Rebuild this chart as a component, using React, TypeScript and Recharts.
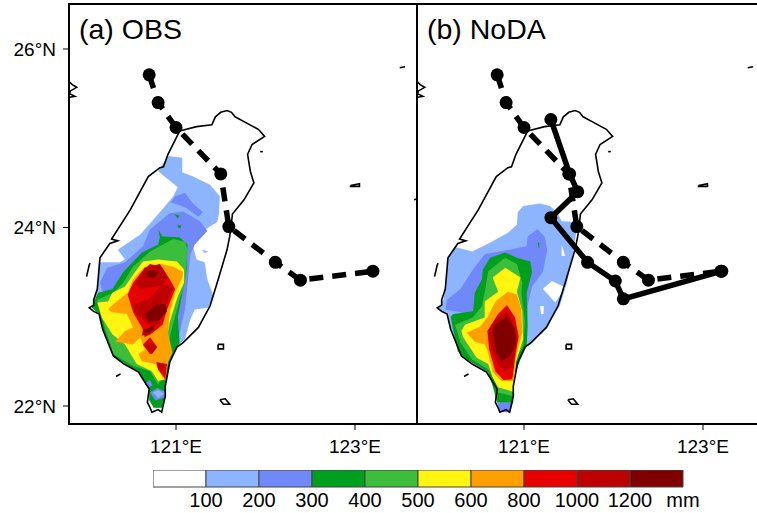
import { BarChart, Bar, ScatterChart, Scatter, XAxis, YAxis, ReferenceArea } from "recharts";

type Poly = number[][];

const LEVEL_LABELS = ["100", "200", "300", "400", "500", "600", "800", "1000", "1200", "mm"];
const LEVEL_COLORS = ["#ffffff", "#8cb4ff", "#7088f8", "#00a01e", "#3cbe3c", "#fff510", "#ffa000", "#e60000", "#bd0000", "#800000"];
const LON_TICKS = [121, 123];
const LAT_TICKS = [22, 24, 26];
const LON_DOMAIN = [119.804, 123.693];
const LAT_DOMAIN = [21.798, 26.504];

const COAST: Poly = [
  [121.04, 25.08], [121.23, 25.13], [121.40, 25.15], [121.44, 25.24], [121.50, 25.29], [121.57, 25.31], [121.62, 25.29],
  [121.66, 25.24], [121.77, 25.18], [121.92, 25.10], [121.99, 25.02], [121.85, 24.93], [121.80, 24.82], [121.83, 24.63],
  [121.87, 24.50], [121.76, 24.31], [121.63, 24.15], [121.62, 24.05], [121.60, 23.90], [121.57, 23.75], [121.46, 23.38],
  [121.38, 23.12], [121.25, 22.88], [121.08, 22.71], [121.01, 22.66], [120.93, 22.49], [120.88, 22.22], [120.88, 22.11],
  [120.86, 22.02], [120.84, 21.93], [120.80, 21.96], [120.73, 21.93], [120.71, 21.98], [120.68, 22.04], [120.70, 22.19],
  [120.58, 22.38], [120.42, 22.47], [120.30, 22.56], [120.18, 22.86], [120.14, 23.03], [120.08, 23.06], [120.03, 23.10],
  [120.08, 23.13], [120.08, 23.19], [120.12, 23.31], [120.15, 23.66], [120.26, 23.82], [120.35, 23.85], [120.28, 23.87],
  [120.49, 24.20], [120.69, 24.57], [120.82, 24.67], [120.86, 24.68], [120.91, 24.82], [121.04, 25.08],
];

const ISLETS: Poly[] = [
  [[123.50, 25.79], [123.56, 25.80]],
  [[122.95, 24.47], [123.05, 24.49], [123.05, 24.46], [122.95, 24.46], [122.95, 24.47]],
  [[123.66, 24.31], [123.69, 24.32]],
  [[121.47, 22.69], [121.53, 22.69], [121.53, 22.64], [121.47, 22.64], [121.47, 22.69]],
  [[120.33, 22.33], [120.38, 22.36]],
  [[121.49, 22.07], [121.55, 22.08], [121.60, 22.02], [121.53, 22.02], [121.49, 22.07]],
  [[120.00, 23.45], [120.03, 23.58], [120.04, 23.60]],
  [[119.81, 25.63], [119.84, 25.60], [119.89, 25.57], [119.82, 25.53], [119.81, 25.50], [119.87, 25.47], [119.81, 25.46]],
  [[121.94, 24.85], [121.97, 24.85]],
];

const TRACK_OBS: Poly = [
  [120.70, 25.71], [120.80, 25.40], [121.00, 25.12], [121.50, 24.60],
  [121.59, 24.01], [122.11, 23.61], [122.39, 23.41], [123.20, 23.51],
];
const TRACK_NODA: Poly = [
  [121.30, 25.21], [121.51, 24.60], [121.60, 24.40], [121.30, 24.11],
  [121.71, 23.61], [122.02, 23.40], [122.11, 23.20], [123.21, 23.51],
];

const OBS_100: Poly[] = [
  [[120.91, 24.80], [121.07, 24.78], [121.07, 24.62], [121.19, 24.57], [121.38, 24.48], [121.49, 24.35], [121.48, 24.15],
   [121.46, 24.06], [121.27, 23.94], [121.19, 23.81], [121.20, 23.75], [121.23, 23.64], [121.32, 23.61], [121.35, 23.42],
   [121.42, 23.23], [121.36, 23.10], [121.21, 23.08], [121.16, 22.97], [121.10, 22.75], [121.01, 22.66], [120.93, 22.49],
   [120.88, 22.22], [120.88, 22.11], [120.84, 21.98], [120.75, 21.98], [120.70, 22.07], [120.70, 22.19], [120.58, 22.38],
   [120.30, 22.56], [120.18, 22.86], [120.14, 23.03], [120.06, 23.10], [120.08, 23.19], [120.12, 23.31], [120.14, 23.61],
   [120.37, 23.61], [120.43, 23.64], [120.35, 23.75], [120.60, 23.92], [120.82, 24.17], [120.97, 24.35], [121.02, 24.45], [120.80, 24.63]],
  [[121.29, 23.75], [121.36, 23.73], [121.32, 23.71]],
];
const OBS_200: Poly[] = [
  [[120.93, 24.16], [121.08, 24.18], [121.27, 24.07], [121.35, 23.96], [121.21, 23.81], [121.16, 23.70], [121.13, 23.38],
   [121.10, 23.08], [121.04, 22.82], [121.02, 22.69], [120.96, 22.66], [120.82, 22.97], [120.37, 23.31], [120.18, 23.28],
   [120.15, 23.38], [120.23, 23.55], [120.43, 23.61], [120.63, 23.79], [120.71, 23.98]],
  [[120.99, 24.35], [121.10, 24.39], [121.18, 24.28], [121.30, 24.17], [121.25, 24.12], [121.11, 24.22], [121.01, 24.26], [120.94, 24.28]],
];
const OBS_300: Poly[] = [
  [[120.80, 23.98], [120.85, 23.90], [121.04, 23.89], [121.13, 23.81], [121.12, 23.64], [121.12, 23.53], [121.08, 23.31],
   [121.02, 23.00], [121.04, 22.71], [121.01, 22.66], [120.93, 22.49], [120.88, 22.22], [120.88, 22.11], [120.84, 21.98],
   [120.75, 21.98], [120.70, 22.07], [120.70, 22.19], [120.58, 22.38], [120.30, 22.56], [120.18, 22.86], [120.14, 23.03],
   [120.06, 23.10], [120.08, 23.16], [120.13, 23.27], [120.29, 23.31], [120.41, 23.50], [120.62, 23.72], [120.80, 23.81], [120.82, 23.89]],
  [[120.98, 24.15], [121.04, 24.13], [121.02, 24.10]],
  [[121.02, 24.03], [121.06, 24.02], [121.05, 23.99], [121.02, 24.00]],
];
const OBS_400: Poly[] = [
  [[120.71, 23.73], [120.82, 23.79], [120.97, 23.87], [121.10, 23.84], [121.13, 23.75], [121.10, 23.38], [121.04, 23.19],
   [120.96, 22.89], [120.91, 22.69], [120.82, 22.52], [120.84, 22.30], [120.80, 22.24], [120.71, 22.39], [120.52, 22.45],
   [120.30, 22.58], [120.21, 22.86], [120.15, 23.08], [120.12, 23.19], [120.30, 23.27], [120.41, 23.38], [120.52, 23.56]],
];
const OBS_500: Poly[] = [
  [[120.63, 23.62], [120.80, 23.64], [121.01, 23.62], [121.09, 23.53], [121.09, 23.38], [121.02, 23.23], [120.93, 22.94],
   [120.88, 22.67], [120.88, 22.30], [120.80, 22.28], [120.73, 22.39], [120.56, 22.47], [120.43, 22.69], [120.29, 22.80],
   [120.17, 22.99], [120.12, 23.16], [120.24, 23.17], [120.29, 23.27], [120.43, 23.34], [120.52, 23.47]],
];
const OBS_600: Poly[] = [
  [[120.65, 23.56], [120.84, 23.59], [120.97, 23.56], [121.08, 23.50], [121.07, 23.44], [120.99, 23.27], [120.93, 23.05],
   [120.91, 22.82], [120.96, 22.60], [120.91, 22.49], [120.88, 22.28], [120.80, 22.41], [120.77, 22.47], [120.62, 22.50],
   [120.58, 22.58], [120.65, 22.63], [120.60, 22.77], [120.52, 22.69], [120.32, 22.72], [120.43, 22.84], [120.52, 22.88],
   [120.45, 23.03], [120.29, 23.05], [120.24, 23.08], [120.30, 23.14], [120.46, 23.27], [120.52, 23.42]],
];
const OBS_800: Poly[] = [
  [[120.71, 23.59], [120.84, 23.56], [120.93, 23.42], [120.99, 23.31], [120.90, 23.08], [120.85, 22.91], [120.74, 22.82],
   [120.65, 22.77], [120.63, 22.86], [120.52, 23.05], [120.46, 23.25], [120.52, 23.38], [120.62, 23.51]],
  [[120.71, 22.77], [120.63, 22.69], [120.71, 22.58], [120.79, 22.66]],
  [[120.78, 22.49], [120.90, 22.47], [120.88, 22.30], [120.80, 22.41]],
];
const OBS_1000: Poly[] = [
  [[120.55, 23.37], [120.65, 23.55], [120.82, 23.59], [120.91, 23.44], [120.84, 23.35], [120.60, 23.31]],
  [[120.74, 23.25], [120.85, 23.36], [120.97, 23.33], [120.88, 23.12], [120.82, 22.95], [120.74, 22.88], [120.66, 22.95],
   [120.53, 23.06], [120.53, 23.14], [120.69, 23.19]],
  [[120.65, 22.67], [120.71, 22.71], [120.79, 22.66], [120.73, 22.58]],
  [[120.78, 22.49], [120.88, 22.47], [120.85, 22.39], [120.80, 22.43]],
  [[120.63, 22.86], [120.77, 22.90], [120.71, 22.80], [120.62, 22.79]],
];
const OBS_1200: Poly[] = [
  [[120.66, 23.50], [120.73, 23.52], [120.81, 23.50], [120.77, 23.44], [120.69, 23.44]],
  [[120.65, 23.03], [120.79, 23.14], [120.88, 23.14], [120.90, 23.06], [120.80, 22.95], [120.69, 22.95]],
  [[120.63, 22.84], [120.73, 22.89], [120.77, 22.86], [120.68, 22.82]],
];
const OBS_HOLE_200: Poly[] = [
  [[120.65, 22.25], [120.71, 22.29], [120.74, 22.23], [120.69, 22.21]],
  [[120.71, 22.15], [120.79, 22.20], [120.88, 22.16], [120.88, 22.10], [120.77, 22.06]],
];
const OBS_HOLE_100: Poly[] = [[[120.74, 22.15], [120.80, 22.18], [120.87, 22.14], [120.80, 22.09]]];

const NODA_100: Poly[] = [
  [[120.99, 24.24], [121.18, 24.27], [121.29, 24.24], [121.37, 24.17], [121.42, 24.07], [121.60, 24.06], [121.56, 23.79],
   [121.55, 23.72], [121.48, 23.38], [121.40, 23.12], [121.23, 22.86], [121.07, 22.69], [121.01, 22.66], [120.93, 22.49],
   [120.88, 22.22], [120.88, 22.11], [120.84, 21.98], [120.75, 21.98], [120.70, 22.07], [120.70, 22.19], [120.58, 22.38],
   [120.30, 22.56], [120.18, 22.86], [120.14, 23.03], [120.04, 23.08], [120.10, 23.19], [120.14, 23.53], [120.15, 23.66],
   [120.23, 23.78], [120.42, 23.73], [120.62, 23.83], [120.82, 23.94], [120.92, 24.03], [120.93, 24.17]],
];
const NODA_200: Poly[] = [
  [[121.15, 23.98], [121.23, 23.90], [121.26, 23.75], [121.21, 23.50], [121.09, 23.34], [121.04, 23.12], [121.03, 22.71],
   [120.96, 22.69], [120.73, 22.97], [120.12, 23.08], [120.14, 23.19], [120.29, 23.31], [120.43, 23.53], [120.56, 23.70],
   [120.73, 23.73], [121.03, 23.79], [121.04, 23.90]],
  [[120.70, 22.04], [120.88, 22.04], [120.84, 21.93], [120.73, 21.93]],
];
const NODA_300: Poly[] = [
  [[120.79, 23.72], [120.92, 23.66], [121.07, 23.62], [121.09, 23.50], [121.03, 23.27], [121.04, 22.89], [121.03, 22.67],
   [120.96, 22.52], [120.88, 22.30], [120.88, 22.04], [120.70, 22.04], [120.65, 22.22], [120.60, 22.38], [120.36, 22.52],
   [120.26, 22.61], [120.20, 22.89], [120.18, 23.00], [120.21, 23.03], [120.43, 23.06], [120.45, 23.27], [120.53, 23.42],
   [120.54, 23.53], [120.62, 23.66]],
  [[121.15, 23.83], [121.17, 23.83], [121.17, 23.76]],
];
const NODA_400: Poly[] = [
  [[120.79, 23.66], [120.92, 23.59], [120.98, 23.38], [120.97, 23.27], [121.01, 22.94], [120.99, 22.67], [120.92, 22.56],
   [120.88, 22.26], [120.88, 22.11], [120.71, 22.15], [120.68, 22.28], [120.60, 22.41], [120.42, 22.52], [120.29, 22.71],
   [120.23, 22.91], [120.43, 22.99], [120.53, 23.12], [120.56, 23.27], [120.60, 23.51]],
];
const NODA_500: Poly[] = [
  [[120.79, 23.55], [120.96, 23.44], [120.92, 23.28], [120.98, 23.06], [120.99, 22.75], [120.91, 22.49], [120.88, 22.16],
   [120.71, 22.21], [120.65, 22.32], [120.60, 22.47], [120.47, 22.54], [120.32, 22.77], [120.30, 22.84], [120.34, 22.91],
   [120.56, 22.99], [120.56, 23.17], [120.71, 23.28], [120.65, 23.44]],
];
const NODA_600: Poly[] = [
  [[120.82, 23.28], [120.92, 23.25], [120.97, 23.08], [120.98, 22.82], [120.92, 22.60], [120.88, 22.28], [120.75, 22.28],
   [120.65, 22.38], [120.59, 22.63], [120.56, 22.69], [120.45, 22.72], [120.36, 22.82], [120.51, 22.89], [120.59, 22.99], [120.68, 23.17]],
];
const NODA_800: Poly[] = [
  [[120.81, 23.13], [120.90, 22.99], [120.94, 22.78], [120.90, 22.54], [120.87, 22.30], [120.77, 22.29], [120.68, 22.39],
   [120.61, 22.63], [120.59, 22.84], [120.71, 23.03]],
];
const NODA_1000: Poly[] = [
  [[120.81, 23.06], [120.90, 22.88], [120.92, 22.75], [120.87, 22.44], [120.79, 22.39], [120.71, 22.47], [120.64, 22.63],
   [120.60, 22.82], [120.68, 22.97]],
];
const NODA_1200: Poly[] = [
  [[120.81, 23.00], [120.90, 22.86], [120.91, 22.69], [120.84, 22.56], [120.75, 22.50], [120.69, 22.60], [120.65, 22.84], [120.68, 22.91]],
];
const NODA_HOLES: Poly[] = [
  [[121.21, 23.31], [121.31, 23.40], [121.46, 23.33], [121.35, 23.16]],
  [[121.18, 23.12], [121.22, 23.12], [121.22, 23.03], [121.19, 23.03]],
  [[121.42, 23.81], [121.46, 23.68], [121.42, 23.68]],
];

const OBS_LAYERS: [string, Poly[]][] = [
  [LEVEL_COLORS[1], OBS_100], [LEVEL_COLORS[2], OBS_200], [LEVEL_COLORS[3], OBS_300], [LEVEL_COLORS[4], OBS_400],
  [LEVEL_COLORS[5], OBS_500], [LEVEL_COLORS[6], OBS_600], [LEVEL_COLORS[7], OBS_800], [LEVEL_COLORS[8], OBS_1000],
  [LEVEL_COLORS[9], OBS_1200], [LEVEL_COLORS[2], OBS_HOLE_200], [LEVEL_COLORS[1], OBS_HOLE_100],
];
const NODA_LAYERS: [string, Poly[]][] = [
  [LEVEL_COLORS[1], NODA_100], [LEVEL_COLORS[0], NODA_HOLES], [LEVEL_COLORS[2], NODA_200], [LEVEL_COLORS[3], NODA_300],
  [LEVEL_COLORS[4], NODA_400], [LEVEL_COLORS[5], NODA_500], [LEVEL_COLORS[6], NODA_600], [LEVEL_COLORS[7], NODA_800],
  [LEVEL_COLORS[8], NODA_1000], [LEVEL_COLORS[9], NODA_1200],
];

const FONT = "'Liberation Sans', Arial, sans-serif";
const toPoints = (poly: Poly) => poly.map(([lon, lat]) => ({ lon, lat }));
const NoMark = () => <g />;
const TrackDot = (props: any) => <circle cx={props.cx} cy={props.cy} r={6.5} fill="#000" />;

function Panel({ title, layers, tracks, showLat, width, left }: {
  title: string;
  layers: [string, Poly[]][];
  tracks: { data: Poly; dash?: string }[];
  showLat: boolean;
  width: number;
  left: number;
}) {
  return (
    <div style={{ position: "absolute", left, top: 0 }}>
      <ScatterChart width={width} height={460} margin={{ top: 4, right: 3, bottom: 0, left: showLat ? 0 : 3 }}>
        <XAxis
          type="number"
          dataKey="lon"
          domain={LON_DOMAIN}
          ticks={LON_TICKS}
          tickFormatter={(v) => `${v}°E`}
          height={36}
          tickSize={6}
          tickMargin={10}
          stroke="#000"
          tick={{ fill: "#000", fontSize: 19, fontFamily: FONT }}
        />
        <YAxis
          type="number"
          dataKey="lat"
          domain={LAT_DOMAIN}
          ticks={LAT_TICKS}
          tickFormatter={(v) => `${v}°N`}
          width={69}
          hide={!showLat}
          tickSize={6}
          tickMargin={7}
          stroke="#000"
          tick={{ fill: "#000", fontSize: 19, fontFamily: FONT }}
        />
        {layers.flatMap(([color, polys], i) =>
          polys.map((poly, j) => (
            <Scatter
              key={`fill-${i}-${j}`}
              data={toPoints(poly)}
              fill={color}
              line={{ fill: color, stroke: "none" }}
              shape={NoMark}
              isAnimationActive={false}
            />
          ))
        )}
        {[COAST, ...ISLETS].map((poly, i) => (
          <Scatter
            key={`coast-${i}`}
            data={toPoints(poly)}
            line={{ stroke: "#000", strokeWidth: 1.6, fill: "none" }}
            shape={NoMark}
            isAnimationActive={false}
          />
        ))}
        {tracks.map((t, i) => (
          <Scatter
            key={`track-${i}`}
            data={toPoints(t.data)}
            line={{ stroke: "#000", strokeWidth: 5.5, strokeDasharray: t.dash, fill: "none" }}
            shape={TrackDot}
            isAnimationActive={false}
          />
        ))}
        <ReferenceArea
          x1={LON_DOMAIN[0]}
          x2={LON_DOMAIN[1]}
          y1={LAT_DOMAIN[0]}
          y2={LAT_DOMAIN[1]}
          fill="none"
          stroke="#000"
          strokeWidth={2}
          label={{ value: title, position: "insideTopLeft", offset: 10, dy: 5, fill: "#000", fontSize: 28.5, fontFamily: FONT }}
        />
      </ScatterChart>
    </div>
  );
}

const COLORBAR_ROW = [Object.fromEntries(LEVEL_COLORS.map((c, i) => [`bin${i}`, 1]))];

export default function App() {
  return (
    <div style={{ position: "absolute", left: 0, top: 0, width: 757, height: 513, overflow: "hidden", background: "#fff" }}>
      <Panel title="(a) OBS" layers={OBS_LAYERS} tracks={[{ data: TRACK_OBS, dash: "14 9" }]} showLat width={420} left={0} />
      <Panel
        title="(b) NoDA"
        layers={NODA_LAYERS}
        tracks={[{ data: TRACK_OBS, dash: "14 9" }, { data: TRACK_NODA }]}
        showLat={false}
        width={354}
        left={414}
      />
      <div style={{ position: "absolute", left: 153, top: 470 }}>
        <BarChart
          layout="vertical"
          width={560}
          height={43}
          data={COLORBAR_ROW}
          barCategoryGap={0}
          margin={{ top: 0, right: 30, bottom: 0, left: 0 }}
        >
          <XAxis
            type="number"
            domain={[0, 10]}
            ticks={[1, 2, 3, 4, 5, 6, 7, 8, 9, 10]}
            tickFormatter={(v) => LEVEL_LABELS[v - 1]}
            height={26}
            axisLine={false}
            tickLine={false}
            interval={0}
            tick={{ fill: "#000", fontSize: 20, fontFamily: FONT }}
            tickMargin={0}
          />
          <YAxis type="category" hide />
          {LEVEL_COLORS.map((c, i) => (
            <Bar key={c} dataKey={`bin${i}`} stackId="levels" fill={c} stroke="#444" strokeWidth={1} isAnimationActive={false} />
          ))}
        </BarChart>
      </div>
    </div>
  );
}
